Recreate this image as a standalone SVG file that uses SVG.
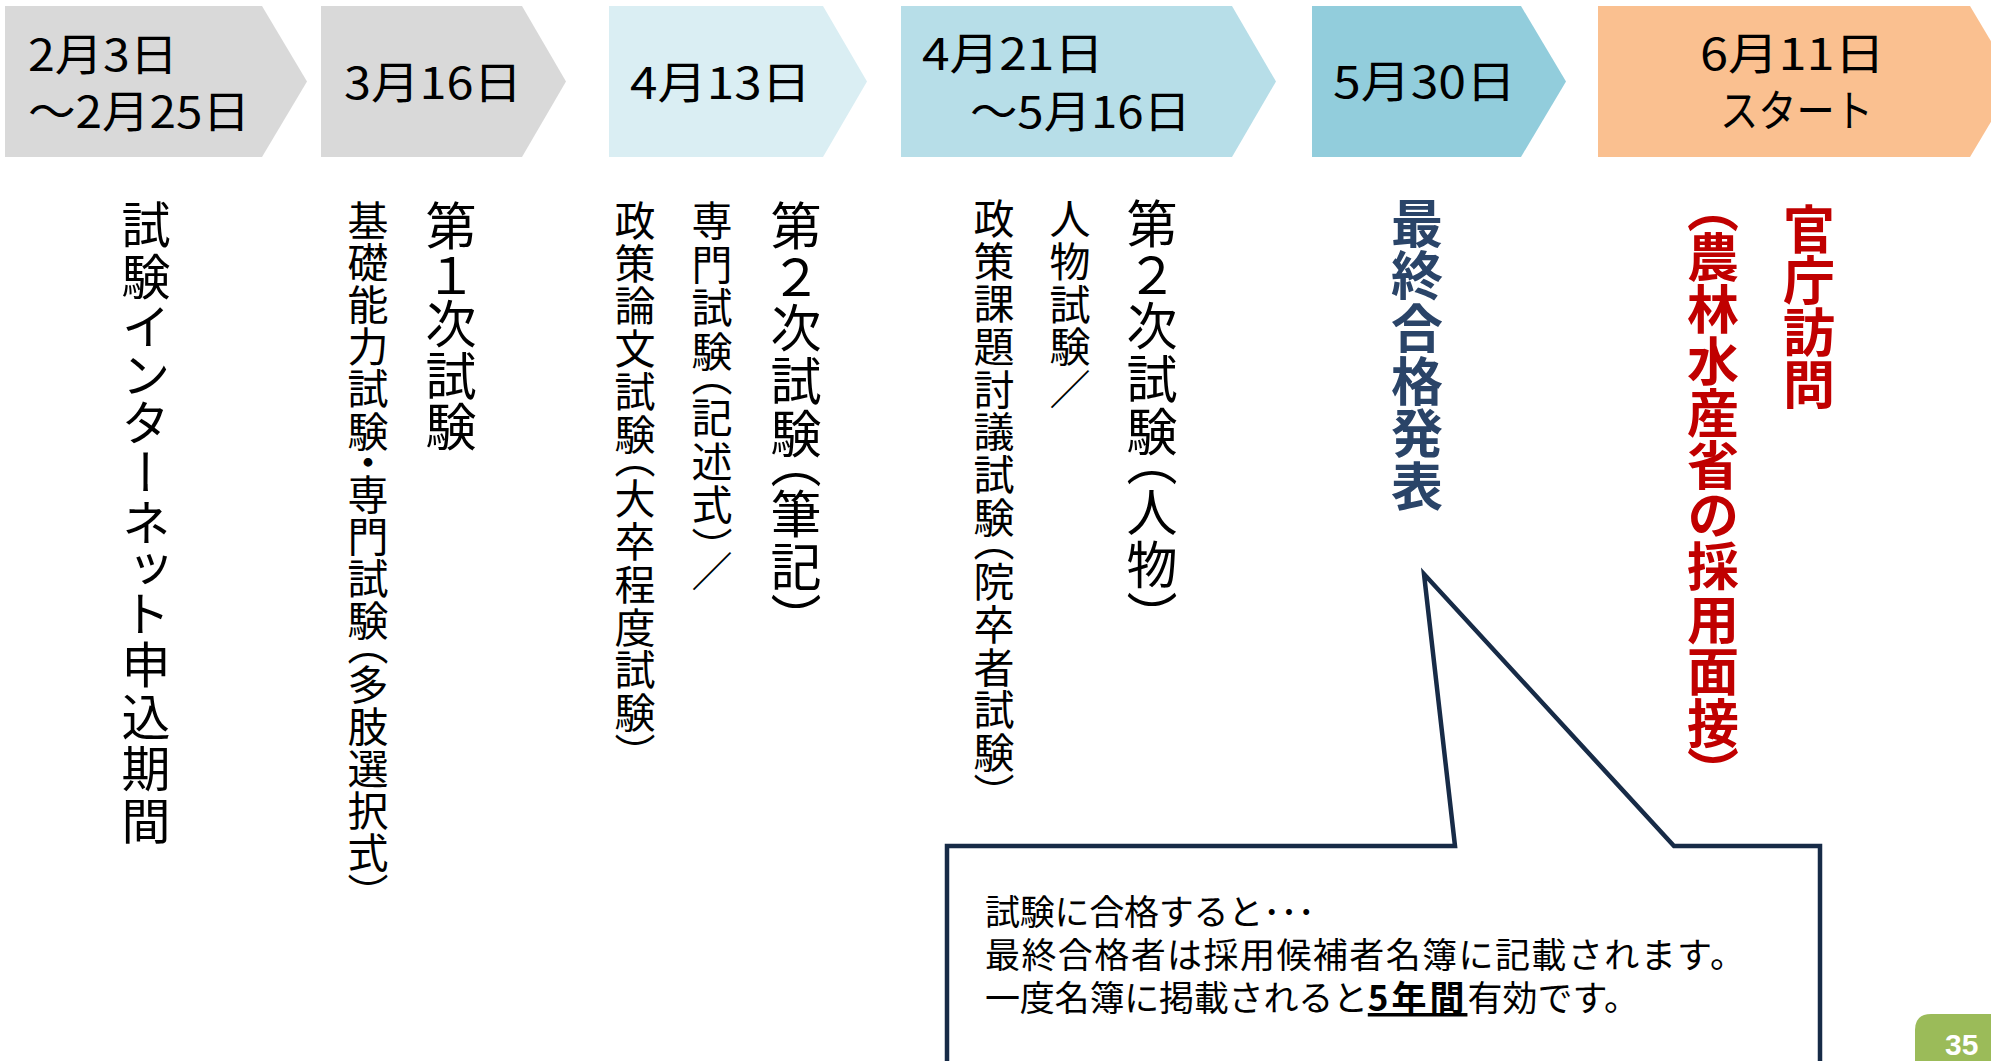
<svg xmlns="http://www.w3.org/2000/svg" width="1991" height="1061" viewBox="0 0 1991 1061">
<style>
.h{font-family:"Noto Sans CJK JP","Noto Sans",sans-serif;font-size:44px;fill:#000}
.v{font-family:"Noto Sans CJK JP","Noto Sans",sans-serif;writing-mode:vertical-rl;font-feature-settings:"vpal" 1;fill:#000}
.big{font-size:51px}
.mid{font-size:49px}
.sm{font-size:41px}
.navy{font-size:52px;font-weight:bold;fill:#2A4468}
.red{font-size:52px;font-weight:bold;fill:#C00000}
.c{font-family:"Noto Sans CJK JP","Noto Sans",sans-serif;font-size:35px;fill:#000}
</style>
<rect width="1991" height="1061" fill="#fff"/>
<g id="chevrons">
<g id="step1"><path d="M5,6 H262 L307,81.5 L262,157 H5 Z" fill="#D9D9D9"/>
<text class="h" x="28" y="71" textLength="150" lengthAdjust="spacingAndGlyphs">2月3日</text>
<text class="h" x="28" y="128" textLength="222" lengthAdjust="spacingAndGlyphs">～2月25日</text></g>
<g id="step2"><path d="M321,6 H522 L566,81.5 L522,157 H321 Z" fill="#D9D9D9"/>
<text class="h" x="344" y="99" textLength="178" lengthAdjust="spacingAndGlyphs">3月16日</text></g>
<g id="step3"><path d="M609,6 H823 L867,81.5 L823,157 H609 Z" fill="#DAEEF3"/>
<text class="h" x="630" y="99" textLength="181" lengthAdjust="spacingAndGlyphs">4月13日</text></g>
<g id="step4"><path d="M901,6 H1232 L1276,81.5 L1232,157 H901 Z" fill="#B7DEE8"/>
<text class="h" x="922" y="70" textLength="182" lengthAdjust="spacingAndGlyphs">4月21日</text>
<text class="h" x="970" y="128" textLength="221" lengthAdjust="spacingAndGlyphs">～5月16日</text></g>
<g id="step5"><path d="M1312,6 H1521 L1566,81.5 L1521,157 H1312 Z" fill="#92CDDC"/>
<text class="h" x="1333" y="98" textLength="183" lengthAdjust="spacingAndGlyphs">5月30日</text></g>
<g id="step6"><path d="M1598,6 H1970 L2015,81.5 L1970,157 H1598 Z" fill="#FAC090"/>
<text class="h" x="1700" y="70" textLength="185" lengthAdjust="spacingAndGlyphs">6月11日</text>
<text class="h" x="1720" y="127" textLength="153" lengthAdjust="spacingAndGlyphs">スタート</text></g>
</g>
<g id="connectors"/>
<g id="labels">
<g id="colA"><text class="v mid" x="146" y="200" textLength="645" lengthAdjust="spacing">試験インターネット申込期間</text></g>
<g id="colC"><text class="v sm" x="368" y="200" textLength="695" lengthAdjust="spacing">基礎能力試験・専門試験（多肢選択式）</text></g>
<g id="colB"><text class="v big" x="451" y="200" textLength="252" lengthAdjust="spacing">第１次試験</text></g>
<g id="colD"><text class="v sm" x="635" y="200" textLength="555" lengthAdjust="spacing">政策論文試験（大卒程度試験）</text></g>
<g id="colE"><text class="v sm" x="712" y="200" textLength="392" lengthAdjust="spacing">専門試験（記述式）／</text></g>
<g id="colF"><text class="v big" x="796" y="200" textLength="420" lengthAdjust="spacing">第２次試験（筆記）</text></g>
<g id="colG"><text class="v sm" x="994" y="198" textLength="597" lengthAdjust="spacing">政策課題討議試験（院卒者試験）</text></g>
<g id="colH"><text class="v sm" x="1070" y="198" textLength="212" lengthAdjust="spacing">人物試験／</text></g>
<g id="colI"><text class="v big" x="1152" y="198" textLength="420" lengthAdjust="spacing">第２次試験（人物）</text></g>
<g id="colJ"><text class="v navy" x="1417" y="197" textLength="315" lengthAdjust="spacing">最終合格発表</text></g>
<g id="colK"><text class="v red" x="1809" y="203" textLength="207" lengthAdjust="spacing">官庁訪問</text></g>
<g id="colL"><text class="v red" x="1713" y="205" textLength="570" lengthAdjust="spacing">（農林水産省の採用面接）</text></g>
</g>
<g id="callout">
<path d="M947,1075 V846 H1455 L1424,574 L1674,846 H1820 V1075" fill="#fff" stroke="#172B47" stroke-width="4.5" stroke-linejoin="miter"/>
<text class="c" x="985" y="925" textLength="330" lengthAdjust="spacing">試験に合格すると･･･</text>
<text class="c" x="985" y="968" textLength="760" lengthAdjust="spacing">最終合格者は採用候補者名簿に記載されます。</text>
<text class="c" y="1011"><tspan x="985" textLength="383" lengthAdjust="spacing">一度名簿に掲載されると</tspan><tspan font-weight="bold" text-decoration="underline" letter-spacing="3">5年間</tspan><tspan>有効です。</tspan></text>
</g>
<g id="page">
<path d="M1915,1061 V1030 Q1915,1014 1931,1014 H1991 V1061 Z" fill="#9BBB59"/>
<text x="1945" y="1055" font-family="Liberation Sans,sans-serif" font-size="30" font-weight="bold" fill="#fff">35</text>
</g>
</svg>
